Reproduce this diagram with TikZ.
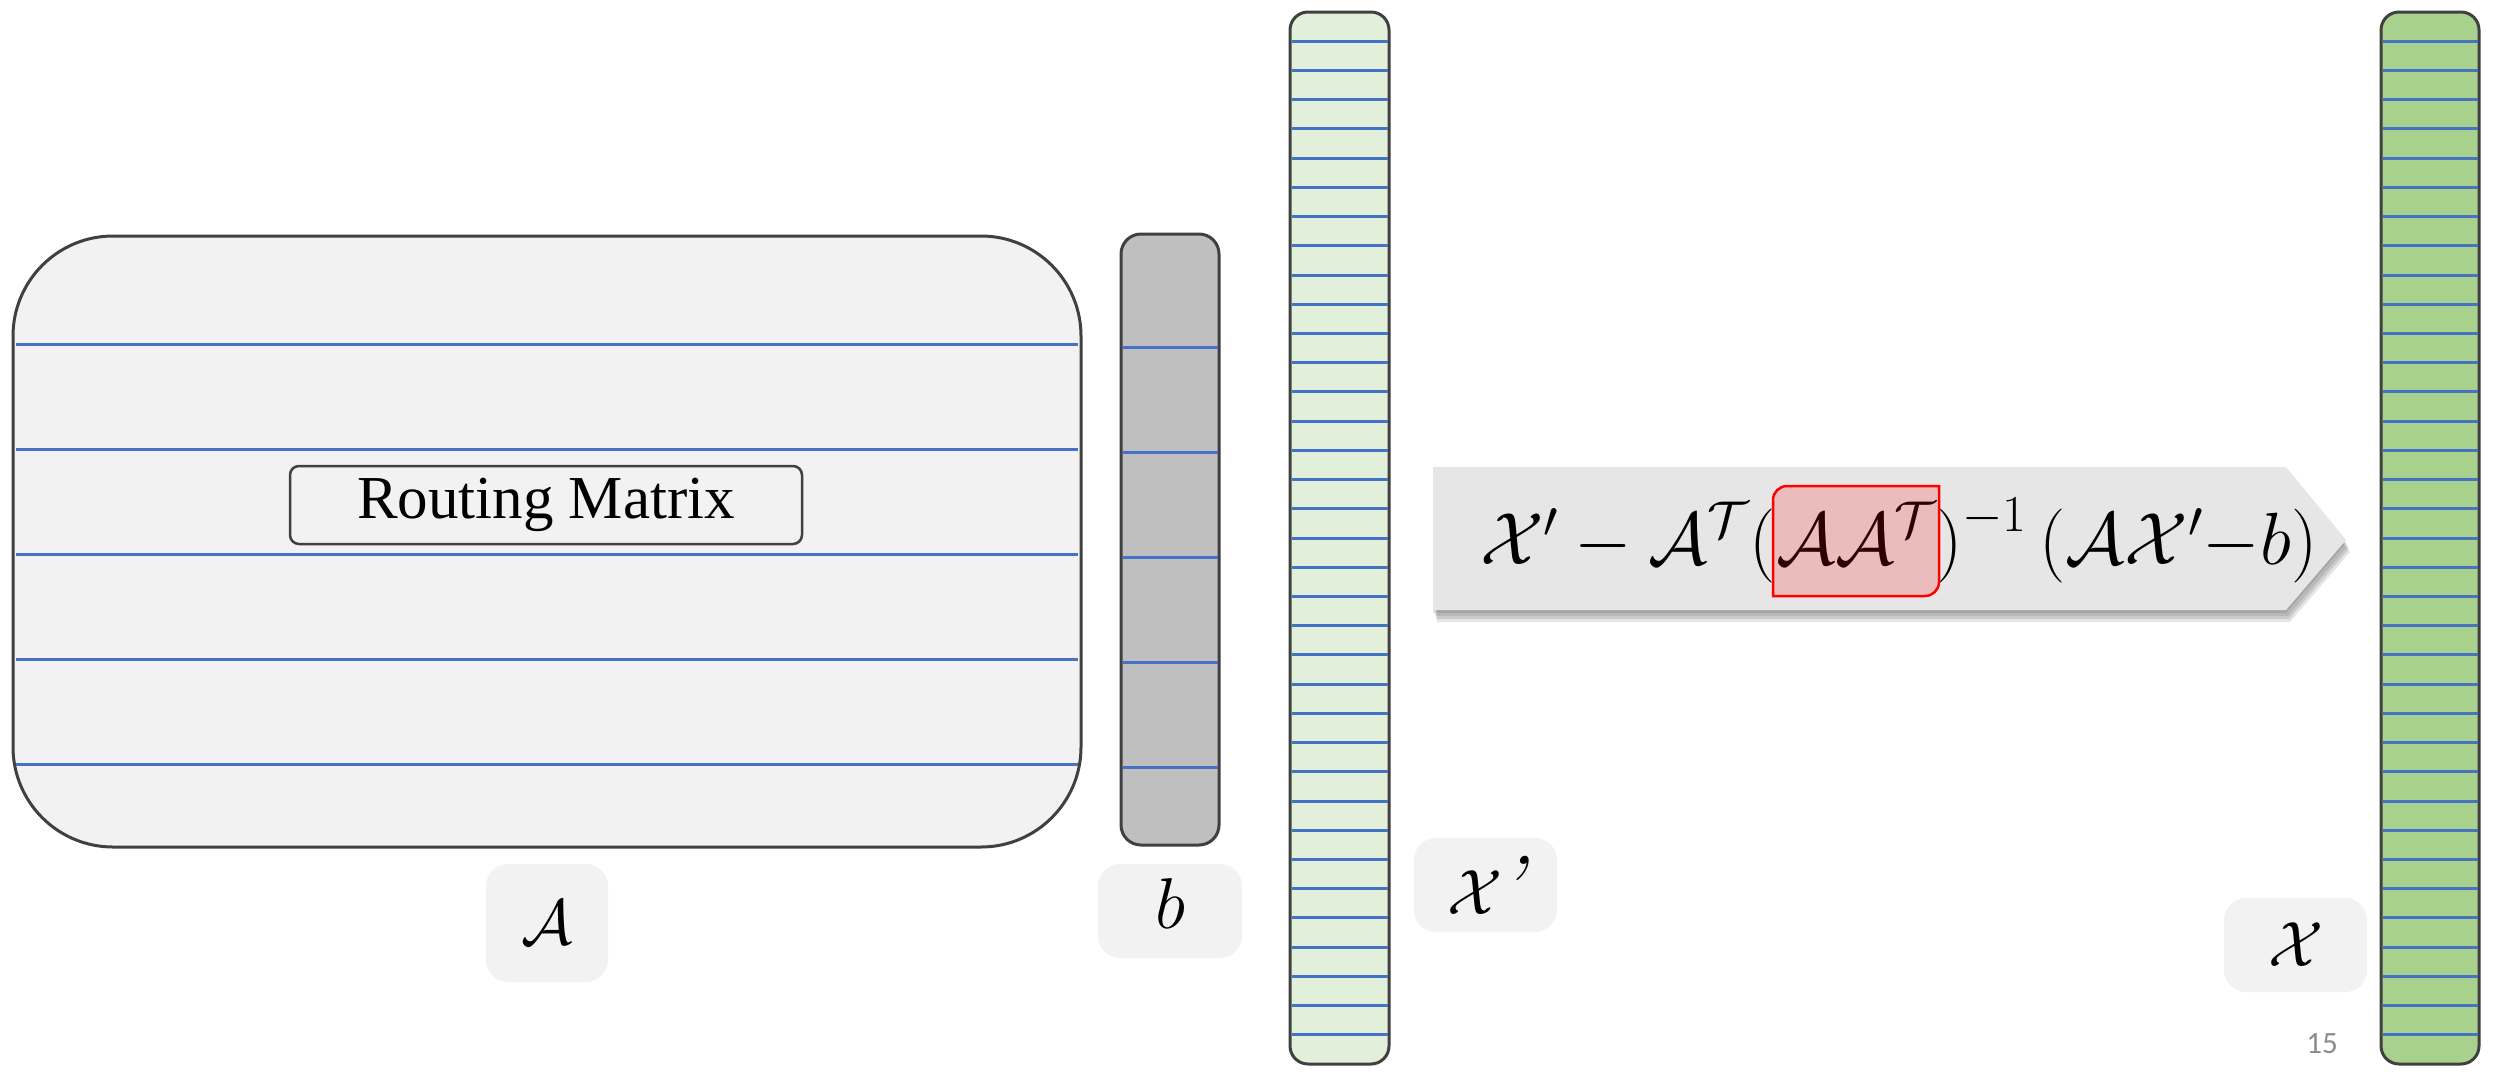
\RequirePackage{fix-cm}
\documentclass[tikz,border=0pt]{standalone}
\usepackage{fontspec}
\newfontfamily\timesfont{Liberation Serif}
\newfontfamily\calibrifont{Carlito}
\usetikzlibrary{calc}
\definecolor{boxborder}{HTML}{404040}
\definecolor{rowline}{HTML}{4472C4}
\definecolor{matfill}{HTML}{F2F2F2}
\definecolor{bfill}{HTML}{BFBFBF}
\definecolor{xpfill}{HTML}{E2EFDA}
\definecolor{xfill}{HTML}{A9D18E}
\definecolor{arrowfill}{HTML}{E6E6E6}
\definecolor{pagegray}{HTML}{8C8C8C}
\begin{document}
\begin{tikzpicture}[x=1pt,y=-1pt,
  matbox/.style={draw=boxborder, line width=3pt, outer sep=0pt, inner sep=0pt},
  rowsep/.style={draw=rowline, line width=3pt},
  labelbox/.style={fill=matfill, rounded corners=22pt, inner sep=0pt, outer sep=0pt},
  mathlabel/.style={font=\fontsize{64}{70}\selectfont},
  formulapart/.style={inner sep=0pt, outer sep=0pt, anchor=base west, font=\fontsize{74}{80}\selectfont},
]
\fill[white] (0,0) rectangle (2496,1074);
\useasboundingbox (0,0) rectangle (2496,1074);

% Routing matrix A
\node[matbox, fill=matfill, rounded corners=100pt, minimum width=1068pt, minimum height=611pt] (A) at (547,541.5) {};
\foreach \yy in {344,449,554,659,764}
  \draw[rowsep] ($(A.north west)+(3,\yy-236)$) -- ($(A.north east)+(-3,\yy-236)$);
\node[draw=boxborder, line width=2.5pt, fill=matfill, rounded corners=9pt, minimum width=512pt, minimum height=78pt, inner sep=0pt,
  font=\timesfont\fontsize{61}{66}\selectfont] (rm) at (546,505) {Routing Matrix};

% b
\node[matbox, fill=bfill, rounded corners=20pt, minimum width=98pt, minimum height=611pt] (b) at (1170,539.5) {};
\foreach \yy in {347,452,557,662,767}
  \draw[rowsep] ($(b.north west)+(1.5,\yy-234)$) -- ($(b.north east)+(-1.5,\yy-234)$);

% X'
\node[matbox, fill=xpfill, rounded corners=18pt, minimum width=99pt, minimum height=1052pt] (xp) at (1339.5,538) {};
\foreach \i in {1,...,35}
  \draw[rowsep] ($(xp.north west)+(1.5,\i*29.222)$) -- ($(xp.north east)+(-1.5,\i*29.222)$);

% X
\node[matbox, fill=xfill, rounded corners=18pt, minimum width=98pt, minimum height=1052pt] (x) at (2430,538) {};
\foreach \i in {1,...,35}
  \draw[rowsep] ($(x.north west)+(1.5,\i*29.222)$) -- ($(x.north east)+(-1.5,\i*29.222)$);

% labels
\node[labelbox, minimum width=122pt, minimum height=118pt] (labA) at (547,923) {};
\node[mathlabel] (tA) at (labA) {$\mathcal{A}$};
\node[labelbox, minimum width=144pt, minimum height=94pt] (labb) at (1170,911) {};
\node[font=\fontsize{72}{76}\selectfont] (tb) at ($(labb)+(0,-8)$) {$b$};
\node[labelbox, minimum width=143pt, minimum height=94pt] (labxp) at (1485.5,885) {};
\node[mathlabel] (txp) at (labxp) {$\mathcal{X}$\kern-4pt{\fontsize{84}{84}\selectfont\itshape ’}};
\node[labelbox, minimum width=143pt, minimum height=94pt] (labx) at (2295.5,945) {};
\node[mathlabel] (tx) at (labx) {$\mathcal{X}$};

% formula arrow
\coordinate (p1) at (1433,467);
\coordinate (p2) at (2286,467);
\coordinate (p3) at (2346,540);
\coordinate (p4) at (2286,610);
\coordinate (p5) at (1433,610);
\foreach \dx/\dy in {0/3,2/6,3/9,4/12}
  \fill[black, opacity=0.10] ($(p1)+(\dx,\dy)$) -- ($(p2)+(\dx,\dy)$) -- ($(p3)+(\dx,\dy)$) -- ($(p4)+(\dx,\dy)$) -- ($(p5)+(\dx,\dy)$) -- cycle;
\fill[arrowfill] (p1) -- (p2) -- (p3) -- (p4) -- (p5) -- cycle;

\node[formulapart] (f1) at (1480,564) {$\mathcal{X}'-\mathcal{A}^{\mathcal{T}}($};
\node[formulapart] (f2) at (f1.base east) {$\mathcal{A}\mathcal{A}^{\mathcal{T}}$};
\node[formulapart] (f3) at (f2.base east) {$)^{\raisebox{6pt}{$\scriptstyle -1$}}\,(\mathcal{A}\mathcal{X}'{-}b)$};

\coordinate (hTL) at ($(f2.base west)+(-3,-78)$);
\coordinate (hTR) at ($(f2.base east)+(3,-78)$);
\coordinate (hBR) at ($(f2.base east)+(3,32)$);
\coordinate (hBL) at ($(f2.base west)+(-3,32)$);
\draw[red, line width=2.5pt, fill=red, fill opacity=0.18]
  (hBL) -- ($(hTL)+(0,14)$) .. controls ($(hTL)+(0,6.3)$) and ($(hTL)+(6.3,0)$) .. ($(hTL)+(14,0)$)
  -- (hTR) -- ($(hBR)+(0,-14)$) .. controls ($(hBR)+(0,-6.3)$) and ($(hBR)+(-6.3,0)$) .. ($(hBR)+(-14,0)$)
  -- cycle;

% page number
\node[font=\calibrifont\fontsize{31}{34}\selectfont, text=pagegray] (pg) at (2322,1044) {15};
\end{tikzpicture}
\end{document}
